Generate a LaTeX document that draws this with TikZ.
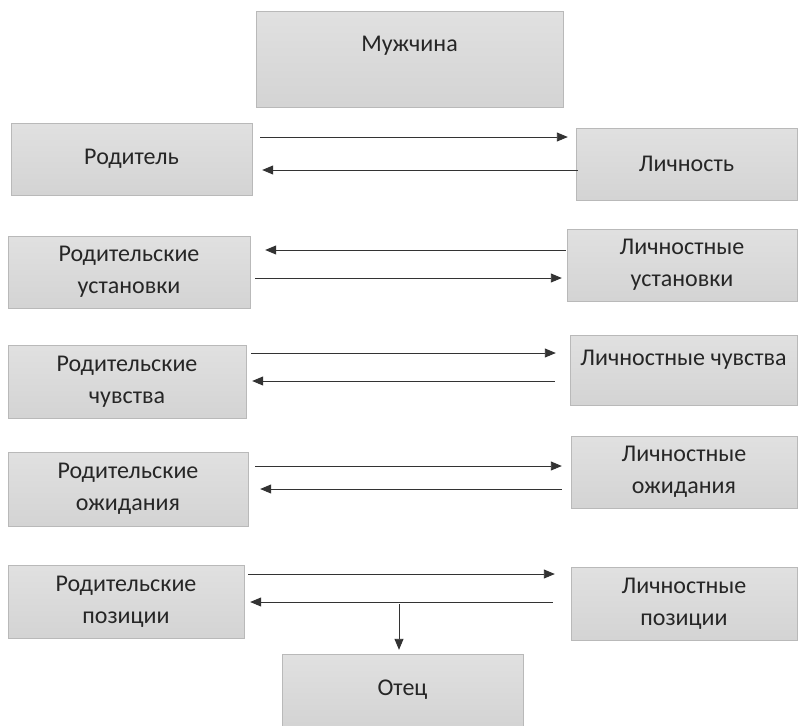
\documentclass[tikz,border=0pt]{standalone}
\usepackage{fontspec}
\setmainfont{Carlito}
\usetikzlibrary{arrows.meta}

\tikzset{
	box/.style={draw=gray!55,top color=gray!24,bottom color=gray!34,
		minimum width=#1,minimum height=72pt,inner sep=2pt,align=center,
		text=black!85,font=\fontsize{24}{32}\selectfont},
	box/.default=240pt,
	arr/.style={draw=black!80,line width=0.9pt,-{Triangle[length=11pt,width=9pt]}}
}

\begin{document}
\begin{tikzpicture}[x=1pt,y=-1pt]
\useasboundingbox (0,0) rectangle (807,726);
% top and bottom
\node (man) [box=307pt,minimum height=96pt,text depth=30pt] at (409.5,59) {Мужчина};
\node (otec) [box=241pt] at (402.5,690) {Отец};
% left column
\node (r1) [box=241pt] at (131.5,159) {Родитель};
\node (r2) [box=242pt] at (129,272) {Родительские\\установки};
\node (r3) [box=238pt,minimum height=73pt] at (127,381.5) {Родительские\\чувства};
\node (r4) [box=240pt,minimum height=74pt] at (128,489) {Родительские\\ожидания};
\node (r5) [box=236pt,minimum height=73pt] at (126,601.5) {Родительские\\позиции};
% right column
\node (l1) [box=221pt] at (686.5,164) {Личность};
\node (l2) [box=230pt] at (682,265) {Личностные\\установки};
\node (l3) [box=227pt,minimum height=70pt,text depth=24pt] at (683.5,370) {Личностные чувства};
\node (l4) [box=226pt] at (684,472) {Личностные\\ожидания};
\node (l5) [box=226pt,minimum height=73pt] at (684,603.5) {Личностные\\позиции};
% arrows
\draw[arr] (r1.east |- 0,137) ++(8,0) -- ([xshift=-8pt]l1.west |- 0,137);
\draw[arr] (l1.west |- 0,170) ++(2,0) -- ([xshift=10pt]r1.east |- 0,170);
\draw[arr] (l2.west |- 0,250) ++(-1,0) -- ([xshift=15pt]r2.east |- 0,250);
\draw[arr] (r2.east |- 0,278) ++(5,0) -- ([xshift=-5pt]l2.west |- 0,278);
\draw[arr] (r3.east |- 0,353) ++(5,0) -- ([xshift=-14pt]l3.west |- 0,353);
\draw[arr] (l3.west |- 0,381) ++(-15,0) -- ([xshift=6pt]r3.east |- 0,381);
\draw[arr] (r4.east |- 0,466) ++(7,0) -- ([xshift=-9pt]l4.west |- 0,466);
\draw[arr] (l4.west |- 0,489) ++(-9,0) -- ([xshift=12pt]r4.east |- 0,489);
\draw[arr] (r5.east |- 0,574) ++(4,0) -- ([xshift=-16pt]l5.west |- 0,574);
\draw[arr] (l5.west |- 0,602) ++(-18,0) -- ([xshift=6pt]r5.east |- 0,602);
\coordinate (dn) at (399,604);
\draw[arr] (dn) -- ([yshift=4pt]otec.north -| dn);
\end{tikzpicture}
\end{document}
